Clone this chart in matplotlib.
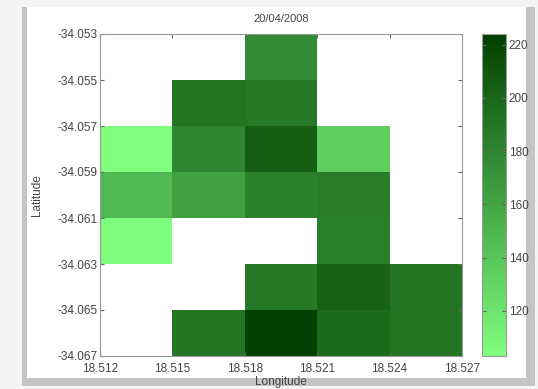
import numpy as np
import matplotlib
matplotlib.use("Agg")
import matplotlib.pyplot as plt
from matplotlib.colors import LinearSegmentedColormap
from matplotlib.patches import Rectangle

plt.rcParams["font.family"] = ["Liberation Sans", "DejaVu Sans"]

# grid cell edges
lon_edges = [18.512, 18.515, 18.518, 18.521, 18.524, 18.527]
lat_edges = [-34.053, -34.055, -34.057, -34.059, -34.061, -34.063, -34.065, -34.067]

# cell values, top row first (NaN = no data)
nan = np.nan
row1 = [nan, nan, 176, nan, nan]
row2 = [nan, 191, 188, nan, nan]
row3 = [104, 179, 204, 134, nan]
row4 = [148, 163, 182, 185, nan]
row5 = [105, nan, nan, 184, nan]
row6 = [nan, nan, 188, 202, 190]
row7 = [nan, 190, 224, 197, 191]

cbar_ticks = [120, 140, 160, 180, 200, 220]
vmin, vmax = 103, 224

values = np.ma.masked_invalid(np.array([row1, row2, row3, row4, row5, row6, row7], dtype=float))

cmap = LinearSegmentedColormap.from_list("greens", ["#80ff80", "#004000"])

fig = plt.figure(figsize=(5.38, 3.89), dpi=100)
fig.patch.set_facecolor("#f4f4f4")

# beveled frame around the plot
W, H = 538.0, 389.0
fig.patches.append(Rectangle((22 / W, 1 - 386 / H), 513 / W, 379 / H,
                             transform=fig.transFigure, facecolor="#c4c4c4",
                             edgecolor="none", zorder=-3))
fig.patches.append(Rectangle((27 / W, 1 - 378 / H), 499 / W, 371 / H,
                             transform=fig.transFigure, facecolor="white",
                             edgecolor="none", zorder=-2))

ax = fig.add_axes([100 / W, 1 - 356 / H, 362 / W, 322 / H])
mesh = ax.pcolormesh(lon_edges, lat_edges, values, cmap=cmap, vmin=vmin, vmax=vmax)
ax.set_xlim(lon_edges[0], lon_edges[-1])
ax.set_ylim(lat_edges[-1], lat_edges[0])
ax.set_xticks(lon_edges)
ax.set_xticklabels([f"{v:.3f}" for v in lon_edges])
ax.set_yticks(lat_edges)
ax.set_yticklabels([f"{v:.3f}" for v in lat_edges])
ax.tick_params(direction="in", top=True, right=True, length=3, labelsize=8.5,
               colors="#666666", labelcolor="#444444", pad=2)
ax.tick_params(axis="x", pad=5)
for s in ax.spines.values():
    s.set_color("#999999")
    s.set_linewidth(0.8)
ax.set_title("20/04/2008", fontsize=8, color="#444444", pad=9)
ax.set_xlabel("Longitude", fontsize=8.5, color="#444444", labelpad=1)
ax.set_ylabel("Latitude", fontsize=8.5, color="#444444", labelpad=10)

cax = fig.add_axes([482 / W, 1 - 356 / H, 24 / W, 322 / H])
cb = fig.colorbar(mesh, cax=cax, ticks=cbar_ticks)
cb.outline.set_edgecolor("#999999")
cb.outline.set_linewidth(0.8)
cax.tick_params(direction="in", left=True, right=True, length=3, labelsize=8.5,
                colors="#666666", labelcolor="#444444", pad=2)

fig.savefig("out.png", dpi=100, facecolor=fig.get_facecolor())
